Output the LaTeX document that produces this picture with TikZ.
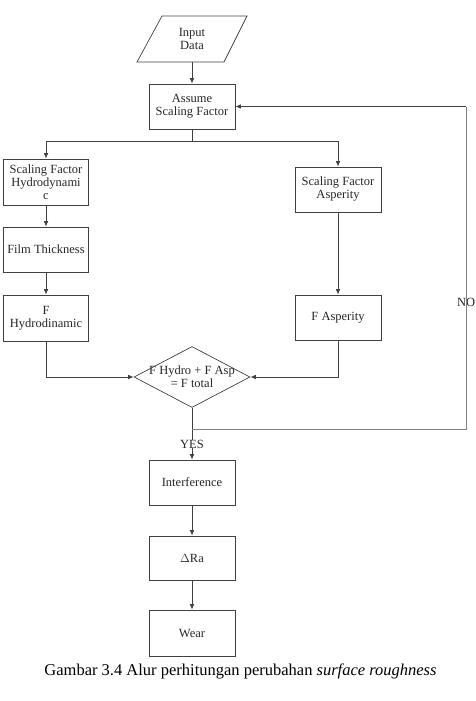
\documentclass[tikz,border=0pt]{standalone}
\usepackage{fontspec}
\setmainfont{Liberation Serif}
\usetikzlibrary{shapes.geometric,arrows.meta}
\begin{document}
\begin{tikzpicture}[x=1pt,y=-1pt,
  every node/.style={font=\fontsize{12.5}{13}\selectfont, text=black!85, align=center},
  box/.style={draw=black!75, line width=0.7pt, minimum width=86, minimum height=45, inner sep=1pt},
  conn/.style={draw=black!75, line width=0.7pt, -{Latex[length=5.5pt,width=4.5pt]}},
  plain/.style={draw=black!75, line width=0.7pt},
  loopl/.style={draw=black!50, line width=0.8pt}]
\useasboundingbox (0,0) rectangle (475,701);
% input parallelogram
\node[minimum width=87, minimum height=46, inner sep=0] (in) at (192,39) {Input\\Data};
\draw[plain] (137,62) -- (224,62) -- (247,16) -- (162,16) -- cycle;
\node[box] (assume) at (192,106.5) {Assume\\Scaling Factor};
\node[box, minimum width=85, minimum height=46] (sfh) at (46,182) {Scaling Factor\\Hydrodynami\\c};
\node[box, minimum width=85] (ft) at (46,249.5) {Film Thickness};
\node[box, minimum width=85, minimum height=46] (fh) at (46,318) {F\\Hydrodinamic};
\node[box] (sfa) at (338,189.5) {Scaling Factor\\Asperity};
\node[box] (fa) at (338,317.5) {F Asperity};
\node[diamond, draw=black!75, line width=0.7pt, minimum width=116, minimum height=61, inner sep=0] (dia) at (192,377) {};
\node[inner sep=0] (diat) at (192,377) {F Hydro + F Asp\\= F total};
\node[box] (intf) at (192,482.5) {Interference};
\node[box, minimum height=44] (dra) at (192,558) {$\Delta$Ra};
\node[box, minimum height=46] (wear) at (192,633) {Wear};
\node[inner sep=0] (yes) at (192,444) {YES};
\node[inner sep=0, anchor=west] (no) at (457,302) {NO};
\node[inner sep=0, anchor=base, font=\fontsize{16.5}{18}\selectfont, text=black] (cap) at (240.5,675) {Gambar 3.4 Alur perhitungan perubahan \textit{surface roughness}};
% connectors
\coordinate (split) at (192,141);
\coordinate (j) at (192,429);
\coordinate (nr) at (466,429);
\coordinate (nt) at (466,106.5);
\draw[conn] (in.south) -- (assume.north);
\draw[plain] (assume.south) -- (split);
\draw[plain] (sfh.north |- split) -- (sfa.north |- split);
\draw[conn] (sfh.north |- split) -- (sfh.north);
\draw[conn] (sfa.north |- split) -- (sfa.north);
\draw[conn] (sfh) -- (ft);
\draw[conn] (ft) -- (fh);
\draw[conn] (sfa) -- (fa);
\draw[conn] (fh.south) |- (dia.west);
\draw[conn] (fa.south) |- (dia.east);
\draw[plain] (dia.south) -- (yes.north);
\draw[conn] (yes.south) -- (intf.north);
\draw[loopl] (j) -- (nr) -- (nt);
\draw[conn] (nt) -- (assume.east);
\draw[conn] (intf) -- (dra);
\draw[conn] (dra) -- (wear);
\end{tikzpicture}
\end{document}
